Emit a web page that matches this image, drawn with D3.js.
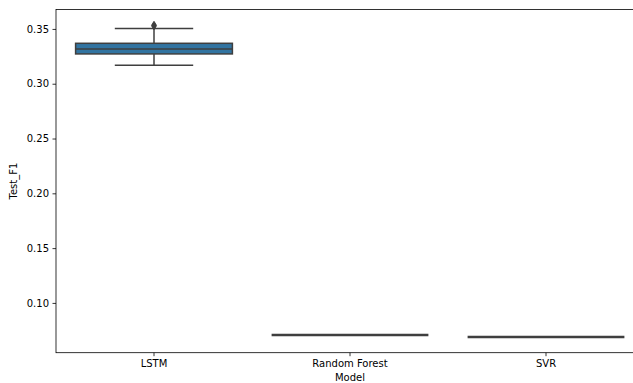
<!DOCTYPE html>
<html><head><meta charset="utf-8">
<script src="https://cdn.jsdelivr.net/npm/d3@7"></script>
<style>body{margin:0;background:#fff;} svg{display:block;font-family:"DejaVu Sans",sans-serif;}</style>
</head><body>
<script>
const models = ["LSTM", "Random Forest", "SVR"];
const q1 = [0.3272, 0.0708, 0.0688];
const medians = [0.3318, 0.0708, 0.0688];
const q3 = [0.3369, 0.0708, 0.0688];
const whiskerLow = [0.3168, 0.0708, 0.0688];
const whiskerHigh = [0.3503, 0.0708, 0.0688];
const fliers = [[0.3527, 0.3535], [], []];
const yTicks = [0.10, 0.15, 0.20, 0.25, 0.30, 0.35];

const W = 633, H = 383;
const mLeft = 56, mTop = 9.5, mBottom = 352.7, mRight = 644;
const svg = d3.select("body").append("svg").attr("width", W).attr("height", H);

const allVals = [...whiskerLow, ...whiskerHigh, ...fliers.flat()];
const lo = d3.min(allVals), hi = d3.max(allVals), pad = (hi - lo) * 0.05;
const y = d3.scaleLinear().domain([lo - pad, hi + pad]).range([mBottom, mTop]);
const x = d3.scaleBand().domain(models).range([mLeft, mRight]).paddingInner(0).paddingOuter(0);

const gray = "#3f3f3f";
const bw = x.bandwidth() * 0.8;
const g = svg.append("g");
models.forEach((m, i) => {
  const cx = x(m) + x.bandwidth() / 2;
  g.append("line").attr("x1", cx).attr("x2", cx).attr("y1", y(q3[i])).attr("y2", y(whiskerHigh[i])).attr("stroke", gray).attr("stroke-width", 1.5);
  g.append("line").attr("x1", cx).attr("x2", cx).attr("y1", y(q1[i])).attr("y2", y(whiskerLow[i])).attr("stroke", gray).attr("stroke-width", 1.5);
  if (whiskerHigh[i] > whiskerLow[i]) {
    [whiskerLow[i], whiskerHigh[i]].forEach(v => {
      g.append("line").attr("x1", cx - bw / 4).attr("x2", cx + bw / 4).attr("y1", y(v)).attr("y2", y(v)).attr("stroke", gray).attr("stroke-width", 1.5);
    });
  }
  g.append("rect").attr("x", cx - bw / 2).attr("width", bw)
    .attr("y", y(q3[i])).attr("height", Math.max(0, y(q1[i]) - y(q3[i])))
    .attr("fill", "#3274a1").attr("stroke", gray).attr("stroke-width", 1.5);
  g.append("line").attr("x1", cx - bw / 2).attr("x2", cx + bw / 2).attr("y1", y(medians[i])).attr("y2", y(medians[i])).attr("stroke", gray).attr("stroke-width", q1[i] === q3[i] ? 2.5 : 1.5);
  fliers[i].forEach(v => {
    const s = 3;
    g.append("path").attr("d", `M${cx},${y(v) - s * 1.3}L${cx + s * 0.8},${y(v)}L${cx},${y(v) + s * 1.3}L${cx - s * 0.8},${y(v)}Z`).attr("fill", gray).attr("stroke", gray).attr("stroke-width", 0.8);
  });
});

const yAxis = svg.append("g").attr("transform", `translate(${mLeft},0)`)
  .call(d3.axisLeft(y).tickValues(yTicks).tickFormat(d3.format(".2f")).tickSize(3.5).tickPadding(3.5));
const xAxis = svg.append("g").attr("transform", `translate(0,${mBottom})`)
  .call(d3.axisBottom(x).tickSize(3.5).tickPadding(3.5));
[yAxis, xAxis].forEach(a => {
  a.select(".domain").remove();
  a.selectAll("line").attr("stroke", "#000").attr("stroke-width", 0.8);
  a.selectAll("text").attr("font-size", 10).attr("fill", "#000").attr("font-family", "DejaVu Sans");
});
svg.append("rect").attr("x", mLeft).attr("y", mTop).attr("width", mRight - mLeft).attr("height", mBottom - mTop)
  .attr("fill", "none").attr("stroke", "#000").attr("stroke-width", 0.8);

svg.append("text").attr("x", (mLeft + mRight) / 2).attr("y", 381).attr("text-anchor", "middle").attr("font-size", 10).text("Model");
svg.append("text").attr("transform", `translate(17,${(mTop + mBottom) / 2}) rotate(-90)`).attr("text-anchor", "middle").attr("font-size", 10).text("Test_F1");
</script>
</body></html>
